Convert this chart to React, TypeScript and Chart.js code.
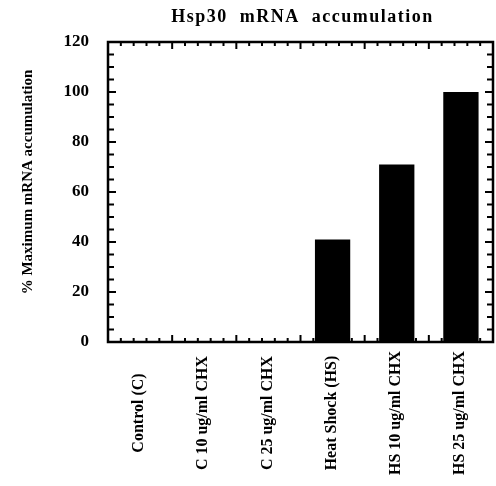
import { useEffect, useRef } from "react";
import { Chart, registerables } from "chart.js";

Chart.register(...registerables);

// Treatments along the x axis
const categories = [
  "Control (C)",
  "C 10 ug/ml CHX",
  "C 25 ug/ml CHX",
  "Heat Shock (HS)",
  "HS 10 ug/ml CHX",
  "HS 25 ug/ml CHX",
];

// % of maximum Hsp30 mRNA accumulation per treatment
const accumulation = [0, 0, 0, 41, 71, 100];

const yTicks = [0, 20, 40, 60, 80, 100, 120];
const yMinorStep = 5;
const xMinorPerCategory = 5;

const chartTitle = "Hsp30  mRNA  accumulation";
const yAxisTitle = "% Maximum mRNA accumulation";

const SERIF = "'Liberation Serif', 'Times New Roman', serif";

// Frame, inward tick marks, title, axis title and rotated category labels
const decorations = {
  id: "decorations",
  afterDraw(chart: any) {
    const { ctx, chartArea } = chart;
    const { left, right, top, bottom } = chartArea;
    const x = chart.scales.x;
    const y = chart.scales.y;
    ctx.save();
    ctx.strokeStyle = "#000";
    ctx.fillStyle = "#000";

    // y ticks on left and right edges
    ctx.lineWidth = 2;
    const yMin = y.min;
    const yMax = y.max;
    for (let v = yMin; v <= yMax; v += yMinorStep) {
      const py = y.getPixelForValue(v);
      const major = v % 20 === 0;
      const len = major ? 8 : 6;
      ctx.beginPath();
      ctx.moveTo(left, py);
      ctx.lineTo(left + len, py);
      ctx.moveTo(right, py);
      ctx.lineTo(right - len, py);
      ctx.stroke();
    }

    // x ticks on top and bottom edges: major at category boundaries
    const n = categories.length;
    const w = (right - left) / n;
    for (let i = 0; i < n; i++) {
      for (let k = 0; k < xMinorPerCategory; k++) {
        const px = left + i * w + (k * w) / xMinorPerCategory;
        if (i === 0 && k === 0) continue;
        const major = k === 0;
        const len = major ? 7 : 4;
        ctx.beginPath();
        ctx.moveTo(px, top);
        ctx.lineTo(px, top + len);
        ctx.moveTo(px, bottom);
        ctx.lineTo(px, bottom - len);
        ctx.stroke();
      }
    }

    // plot frame
    ctx.lineWidth = 2.5;
    ctx.strokeRect(left, top, right - left, bottom - top);

    // title
    ctx.font = `bold 18px ${SERIF}`;
    (ctx as any).letterSpacing = "1.5px";
    ctx.textAlign = "center";
    ctx.textBaseline = "alphabetic";
    ctx.fillText(chartTitle, (left + right) / 2 + 2, 21.5);
    (ctx as any).letterSpacing = "0px";

    // y axis title
    ctx.save();
    ctx.translate(28, 182);
    ctx.rotate(-Math.PI / 2);
    ctx.font = `bold 15px ${SERIF}`;
    ctx.textAlign = "center";
    ctx.textBaseline = "middle";
    ctx.fillText(yAxisTitle, 0, 0);
    ctx.restore();

    // category labels, rotated and centred on a common line
    ctx.font = `bold 16px ${SERIF}`;
    ctx.textAlign = "center";
    ctx.textBaseline = "middle";
    categories.forEach((label, i) => {
      const px = x.getPixelForValue(i);
      ctx.save();
      ctx.translate(px - 1, 413);
      ctx.rotate(-Math.PI / 2);
      ctx.fillText(label, 0, 0);
      ctx.restore();
    });

    ctx.restore();
  },
};

export default function App() {
  const canvasRef = useRef<HTMLCanvasElement | null>(null);

  useEffect(() => {
    if (!canvasRef.current) return;
    const chart = new Chart(canvasRef.current, {
      type: "bar",
      data: {
        labels: categories,
        datasets: [
          {
            data: accumulation,
            backgroundColor: "#000",
            borderWidth: 0,
            barPercentage: 0.55,
            categoryPercentage: 1,
          },
        ],
      },
      options: {
        responsive: false,
        devicePixelRatio: 1,
        animation: false,
        layout: { padding: { top: 42, right: 3, left: 0, bottom: 0 } },
        plugins: {
          legend: { display: false },
          title: { display: false },
          tooltip: { enabled: false },
        },
        scales: {
          x: {
            grid: { display: false },
            border: { display: false },
            ticks: { display: false },
            afterFit(scale: any) {
              scale.height = 144;
            },
          },
          y: {
            min: 0,
            max: 120,
            afterBuildTicks(scale: any) {
              scale.ticks = yTicks.map((v) => ({ value: v }));
            },
            grid: { display: false, drawTicks: false },
            border: { display: false },
            ticks: {
              color: "#000",
              padding: 19,
              font: { family: SERIF, size: 17, weight: "bold" },
            },
            afterFit(scale: any) {
              scale.width = 108;
            },
          },
        },
      },
      plugins: [decorations],
    });
    return () => chart.destroy();
  }, []);

  return (
    <div style={{ position: "absolute", left: 0, top: 0, width: 496, height: 486, background: "#fff" }}>
      <canvas ref={canvasRef} width={496} height={486} />
    </div>
  );
}
